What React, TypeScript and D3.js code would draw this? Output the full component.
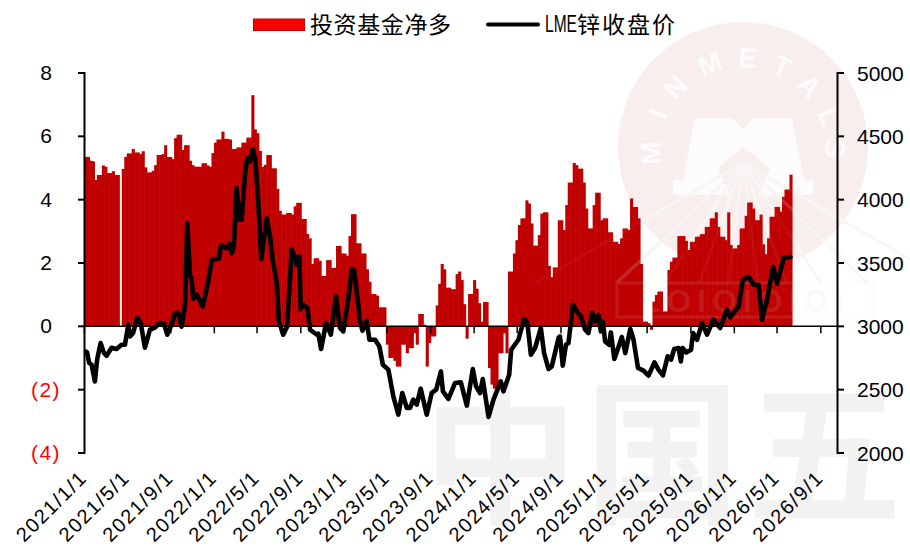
import React from "react";
import * as d3 from "d3";

const netLong = [
  5.35,5.35,5.23,5.21,4.62,4.78,4.78,5.08,5.04,4.84,
  4.84,4.90,4.78,4.78,0,4.97,5.35,5.46,5.46,5.60,
  5.49,5.49,5.44,5.53,5.02,4.86,4.86,4.91,5.09,5.41,
  5.41,5.44,5.72,5.35,5.35,5.28,5.94,6.05,6.05,5.57,
  5.72,5.72,5.23,5.09,5.04,5.04,5.04,5.15,5.15,5.08,
  5.04,5.47,5.80,5.90,5.90,6.15,5.92,5.92,5.90,5.60,
  5.60,5.65,5.65,5.80,5.80,5.96,5.96,7.30,6.22,6.10,
  5.54,5.04,5.10,5.41,5.41,4.99,4.99,4.34,3.65,3.53,
  3.53,3.58,3.58,3.53,3.79,3.90,3.90,3.39,3.39,2.92,
  2.78,1.97,2.15,2.15,2.07,1.59,1.59,2.09,2.09,1.84,
  1.85,2.54,2.54,2.30,2.30,2.23,2.85,3.54,3.54,2.62,
  2.62,2.30,2.30,1.80,1.41,1.02,1.02,0.97,0.60,0.60,
  0.60,-0.58,-1.00,-1.00,-1.09,-1.27,-1.27,-0.58,-0.58,-0.85,
  -0.69,-0.69,-0.22,-0.58,0.39,0.39,0.05,-1.27,-0.53,-0.32,
  -0.32,0.66,1.34,1.97,1.80,1.22,1.22,1.17,1.17,1.65,
  1.73,1.46,0.70,-0.39,1.02,1.02,1.46,1.19,0.73,0.15,
  0.77,0.77,-1.32,-1.84,-1.97,-1.97,-0.85,-0.85,-0.22,-0.85,
  1.73,1.73,2.30,2.72,3.20,3.41,3.41,3.98,3.88,3.25,
  2.55,2.55,2.88,3.56,3.60,3.60,1.91,1.55,1.86,1.86,
  3.35,3.35,3.04,3.83,4.54,4.54,5.16,5.09,4.98,4.98,
  4.54,3.72,3.09,3.09,3.83,4.22,4.22,3.35,3.41,3.41,
  2.97,2.97,2.67,2.67,2.60,2.78,3.09,3.09,3.04,4.04,
  3.77,3.77,3.41,1.97,0.15,0.15,0.10,-0.11,0.78,0.99,
  1.10,1.10,0.47,0.47,1.78,2.04,2.17,2.17,2.85,2.85,
  2.85,2.70,2.41,2.67,2.67,2.83,2.83,2.91,2.91,3.14,
  3.14,3.41,3.41,3.60,3.14,2.83,2.83,2.72,3.60,2.57,
  2.46,2.46,2.57,3.09,3.09,3.49,3.91,3.91,3.72,3.35,
  3.35,3.53,2.59,2.28,2.78,3.46,3.46,3.77,3.77,3.62,
  4.09,4.32,4.32,4.79,
];

// Weeks since 2021/1/1 at which the price line was read
const priceWeeks = [
  0.7,1.1,1.9,2.9,4.2,5.1,6.5,7.8,8.9,10.9,12.9,14.9,16.3,17.6,18.3,19.6,21.2,22.6,24.3,26.3,
  28.3,30.3,31.9,33.3,35.0,36.3,37.7,39.0,40.4,41.3,42.4,43.0,43.7,45.1,47.5,49.7,51.1,54.0,54.8,57.1,
  58.2,59.1,60.0,61.1,62.2,63.1,64.5,65.4,66.5,67.6,68.6,69.8,71.0,73.2,74.5,75.6,77.2,78.1,79.8,81.4,
  83.2,84.5,85.2,86.3,86.8,87.9,89.5,90.6,93.3,93.9,95.0,97.0,98.9,101.0,102.6,103.9,105.9,107.3,108.2,110.0,
  110.6,111.6,113.3,114.4,116.7,118.4,119.8,122.0,124.0,126.0,127.6,129.4,130.7,132.0,133.4,135.0,137.4,139.4,141.2,143.1,
  143.9,146.1,148.8,151.1,153.5,155.9,157.2,158.8,159.9,162.2,164.2,167.1,168.2,170.5,171.3,174.2,176.5,177.8,179.2,180.9,
  183.2,184.5,186.3,187.6,190.3,190.9,192.0,193.3,194.3,196.1,197.7,199.3,201.0,202.3,203.9,205.0,206.3,207.3,208.1,209.0,
  210.6,211.3,212.7,214.0,215.7,217.1,219.1,220.4,222.2,224.4,226.4,228.8,230.4,232.2,234.1,235.5,236.7,238.5,239.4,240.1,
  241.6,243.5,244.3,245.9,247.9,249.9,252.5,255.2,257.9,259.2,262.6,264.3,266.6,268.6,270.6,272.0,274.0,276.4,278.0,280.7,283.4,
];
const priceValues = [
  2800,2792,2713,2697,2565,2737,2868,2792,2768,2831,2821,2855,2855,3013,2920,2950,3068,3028,2831,2973,
  2989,3028,3021,2934,3013,3099,3107,2997,3170,3815,3394,3383,3218,3249,3157,3354,3525,3533,3638,3617,
  3651,3578,3630,4091,3841,3841,4211,4327,4300,4398,4314,3975,3531,3854,3709,3525,3341,3039,2934,2999,
  3604,3551,3486,3551,3136,3170,3144,2973,2934,2942,2821,3026,2934,3236,2987,2960,3210,3452,3446,3157,
  3039,2965,3044,2894,2894,2841,2697,2658,2447,2303,2474,2356,2356,2421,2382,2508,2303,2474,2500,2644,
  2487,2427,2553,2558,2374,2663,2526,2474,2584,2285,2421,2565,2487,2618,2815,2894,3058,3026,2776,2829,
  2987,2789,2663,2684,2908,2920,2689,2855,2868,3170,3118,3078,2973,2947,3105,3039,3091,2960,3039,2881,
  2855,2952,2742,2815,2916,2789,2979,2894,2671,2650,2610,2715,2658,2613,2763,2737,2821,2829,2723,2829,
  2794,2815,2947,2894,3026,2934,3052,2987,3131,3070,3157,3367,3389,3328,3328,3052,3210,3468,3336,3539,3547,
];

const dateTicks = [
  "2021/1/1","2021/5/1","2021/9/1","2022/1/1","2022/5/1","2022/9/1","2023/1/1","2023/5/1","2023/9/1",
  "2024/1/1","2024/5/1","2024/9/1","2025/1/1","2025/5/1","2025/9/1","2026/1/1","2026/5/1","2026/9/1",
];
const leftTicks = [8, 6, 4, 2, 0, -2, -4];
const rightTicks = [5000, 4500, 4000, 3500, 3000, 2500, 2000];
const seriesNames = ["投资基金净多", "锌收盘价"];
const seriesPrefix = "LME";
const badgeLetters = ["M", "I", "N", "M", "E", "T", "A", "L", "S"];
const badgeAngles = [-92, -67, -47, -21, 3, 25, 46, 69, 89];
const badgeBand = "LOIOIOIOI";
const backdropText = "中国五";

const START = new Date(2021, 0, 1);
const END = new Date(2026, 8, 1);
const weekToDate = (w: number) => d3.timeHour.offset(START, Math.round(w * 168));

const SANS = "'Liberation Sans', Arial, sans-serif";
const CJK = "'Noto Sans CJK SC', sans-serif";

export default function App() {
  const x = d3.scaleTime().domain([START, END]).range([84.4, 820.8]);
  const yL = d3.scaleLinear().domain([-4, 8]).range([453, 73]);
  const yR = d3.scaleLinear().domain([2000, 5000]).range([453, 73]);

  const line = d3
    .line<number>()
    .x((w) => x(weekToDate(w)))
    .y((_, i) => yR(priceValues[i]))
    .curve(d3.curveLinear);

  const rays = [-60, -46, -33, -20, -7, 7, 20, 33, 46, 60];
  const apex = [743, 163];

  return (
    <svg
      width={910}
      height={549}
      style={{ position: "absolute", left: 0, top: 0, background: "#fff" }}
    >
      {/* backdrop watermark */}
      <text
        x={423}
        y={511}
        fontFamily={CJK}
        fontWeight={700}
        fontSize={155}
        letterSpacing={7}
        fill="#f2f2f2"
      >
        {backdropText}
      </text>
      <circle cx={743} cy={147} r={125} fill="#f9eeee" />
      {badgeLetters.map((c, i) => (
        <text
          key={i}
          transform={`rotate(${badgeAngles[i]} 743 150) translate(743,${150 - 92})`}
          textAnchor="middle"
          dominantBaseline="central"
          fontFamily={SANS}
          fontWeight={700}
          fontSize={28}
          fill="#fdfbfb"
        >
          {c}
        </text>
      ))}
      <path
        d="M673 195 L673 180 L683 180 L695 118 L733 118 L743 130 L753 118 L792 118 L804 180 L813 180 L813 195 L758 195 L770 168 L743 147 L718 168 L730 195 Z"
        fill="#fdfbfb"
      />
      <g>
        {rays.map((deg) => {
          const r = (deg * Math.PI) / 180;
          return (
            <line
              key={deg}
              x1={apex[0]}
              y1={apex[1]}
              x2={apex[0] + Math.tan(r) * 120}
              y2={apex[1] + 120}
              stroke="#fbf7f7"
              strokeWidth={3}
            />
          );
        })}
      </g>

      {/* bars */}
      {netLong.map((v, i) => {
        if (v === 0) return null;
        const x0 = x(weekToDate(i));
        const x1 = x(weekToDate(i + 1));
        return (
          <rect
            key={i}
            x={x0}
            width={x1 - x0 + 0.6}
            y={Math.min(yL(v), yL(0))}
            height={Math.abs(yL(v) - yL(0))}
            fill="#c00000"
          />
        );
      })}

      {/* logo parts that lie faintly over the bars */}
      <g opacity={0.5}>
        {rays.map((deg) => {
          const r = (deg * Math.PI) / 180;
          return (
            <line
              key={deg}
              x1={apex[0]}
              y1={apex[1]}
              x2={apex[0] + Math.tan(r) * 120}
              y2={apex[1] + 120}
              stroke="#eeeeee"
              strokeOpacity={0.1}
              strokeWidth={3}
            />
          );
        })}
        <path
          d="M617 282 L743 165 L873 282"
          fill="none"
          stroke="#eeeeee"
          strokeOpacity={0.3}
          strokeWidth={3}
        />
        <rect x={617} y={283} width={256} height={34} fill="none" stroke="#e8e8e8" strokeOpacity={0.22} strokeWidth={3} />
        <text
          x={745}
          y={312}
          textAnchor="middle"
          fontFamily={SANS}
          fontWeight={700}
          fontSize={32}
          letterSpacing={6}
          fill="#dddddd"
          fillOpacity={0.22}
        >
          {badgeBand}
        </text>
      </g>

      {/* x baseline and ticks */}
      <line x1={84} x2={838} y1={yL(0)} y2={yL(0)} stroke="#000" strokeWidth={1.5} />
      {dateTicks.map((t) => {
        const [yy, mm, dd] = t.split("/").map(Number);
        const px = x(new Date(yy, mm - 1, dd));
        return (
          <g key={t}>
            <line x1={px} x2={px} y1={yL(0)} y2={yL(0) + 7} stroke="#000" strokeWidth={1.5} />
            <text
              transform={`translate(${px - 1},${474}) rotate(-45)`}
              textAnchor="end"
              dominantBaseline="central"
              fontFamily={SANS}
              fontSize={20}
              letterSpacing={1.6}
              fill="#000"
            >
              {t}
            </text>
          </g>
        );
      })}

      {/* price line */}
      <path
        d={line(priceWeeks) ?? ""}
        fill="none"
        stroke="#000"
        strokeWidth={4.6}
        strokeLinejoin="round"
        strokeLinecap="round"
      />

      {/* left axis */}
      <line x1={84.5} x2={84.5} y1={72} y2={454} stroke="#000" strokeWidth={2} />
      {leftTicks.map((t) => (
        <g key={t}>
          <line x1={78} x2={85} y1={yL(t)} y2={yL(t)} stroke="#000" strokeWidth={2} />
          <text
            x={46}
            y={yL(t) - 0.5}
            textAnchor="middle"
            dominantBaseline="central"
            fontFamily={SANS}
            fontSize={21}
            fill={t < 0 ? "#ff0000" : "#000"}
            letterSpacing={t < 0 ? 1.5 : 0}
          >
            {t < 0 ? `(${-t})` : t}
          </text>
        </g>
      ))}

      {/* right axis */}
      <line x1={837.5} x2={837.5} y1={72} y2={454} stroke="#000" strokeWidth={2} />
      {rightTicks.map((t) => (
        <g key={t}>
          <line x1={837} x2={844} y1={yR(t)} y2={yR(t)} stroke="#000" strokeWidth={2} />
          <text
            x={857}
            y={yR(t)}
            dominantBaseline="central"
            fontFamily={SANS}
            fontSize={21}
            fill="#000"
          >
            {t}
          </text>
        </g>
      ))}

      {/* legend */}
      <rect x={253.5} y={19} width={51} height={11.5} fill="#ff0000" stroke="#c00000" strokeWidth={1} />
      <text x={310} y={23} dominantBaseline="central" fontFamily={CJK} fontSize={23} letterSpacing={0.6} fill="#000">
        {seriesNames[0]}
      </text>
      <line x1={488} x2={538} y1={24.5} y2={24.5} stroke="#000" strokeWidth={4} strokeLinecap="round" />
      <text x={545} y={24} dominantBaseline="central" fontFamily={SANS} fontSize={23.5} textLength={32} lengthAdjust="spacingAndGlyphs" fill="#000">
        {seriesPrefix}
      </text>
      <text x={577} y={23} dominantBaseline="central" fontFamily={CJK} fontSize={23} letterSpacing={2} fill="#000">
        {seriesNames[1]}
      </text>
    </svg>
  );
}
